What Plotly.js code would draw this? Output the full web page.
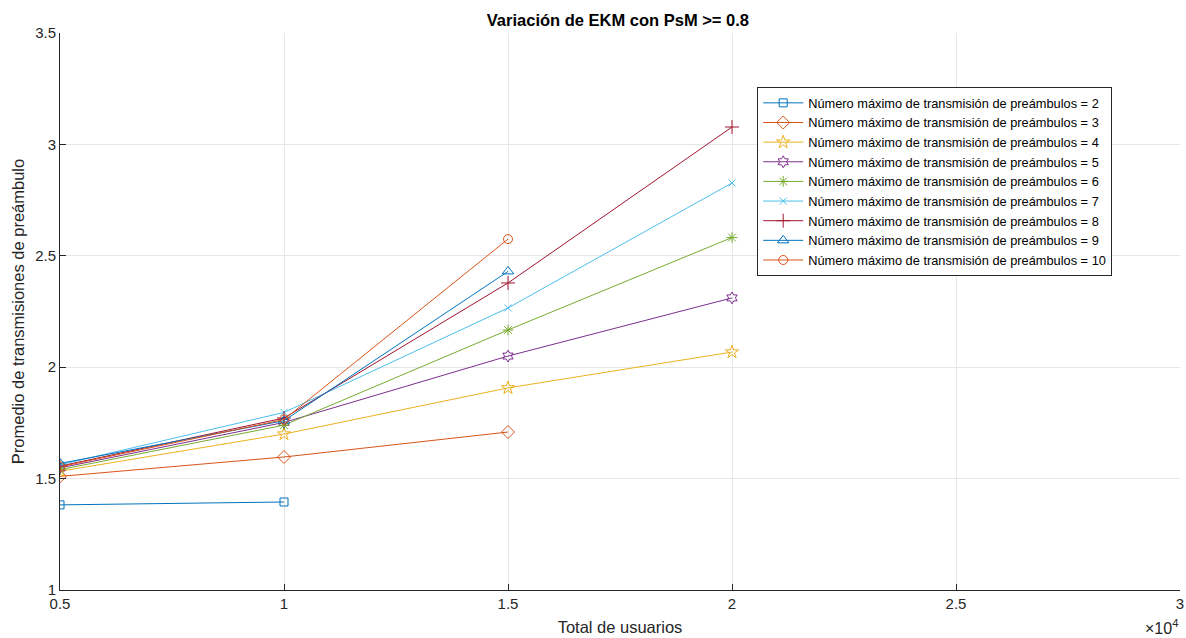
<!DOCTYPE html>
<html>
<head>
<meta charset="utf-8">
<script src="https://cdn.plot.ly/plotly-3.0.1.min.js"></script>
<style>html,body{margin:0;padding:0;background:#fff;}#chart{width:1186px;height:638px;}</style>
</head>
<body>
<div id="chart"></div>
<script>
// Data (Total de usuarios vs. Promedio de transmisiones de preámbulo)
const users = [5000, 10000, 15000, 20000];
const maxTx = [2, 3, 4, 5, 6, 7, 8, 9, 10];
const s2  = [1.382, 1.395];
const s3  = [1.510, 1.597, 1.709];
const s4  = [1.533, 1.700, 1.907, 2.068];
const s5  = [1.548, 1.752, 2.050, 2.311];
const s6  = [1.540, 1.740, 2.167, 2.582];
const s7  = [1.562, 1.797, 2.266, 2.827];
const s8  = [1.556, 1.772, 2.378, 3.078];
const s9  = [1.568, 1.760, 2.430];
const s10 = [1.553, 1.765, 2.575];
const seriesValues = [s2, s3, s4, s5, s6, s7, s8, s9, s10];
const xTickVals = [5000, 10000, 15000, 20000, 25000, 30000];
const xTickText = ["0.5", "1", "1.5", "2", "2.5", "3"];
const yTickVals = [1, 1.5, 2, 2.5, 3, 3.5];
const yTickText = ["1", "1.5", "2", "2.5", "3", "3.5"];

const colors = ["#0072BD", "#D95319", "#EDB120", "#7E2F8E", "#77AC30", "#4DBEEE", "#A2142F", "#0072BD", "#D95319"];
const symbols = ["square-open", "diamond-open", "star-open", "hexagram-open", "asterisk-open", "x-thin-open", "cross-thin-open", "triangle-up-open", "circle-open"];
const sizes = [8, 10, 10, 9, 9, 7, 10, 10, 9];

const traces = seriesValues.map((vals, i) => ({
  x: users.slice(0, vals.length),
  y: vals,
  type: "scatter",
  mode: "lines+markers",
  name: "Número máximo de transmisión de preámbulos = " + maxTx[i],
  line: {color: colors[i], width: 1},
  marker: {symbol: symbols[i], size: sizes[i], color: colors[i], line: {color: colors[i], width: 1}}
}));

const FAM = "Liberation Sans, Arial, sans-serif";
const tickFont = {family: FAM, size: 15, color: "#262626"};

const layout = {
  width: 1186, height: 638,
  margin: {l: 60, r: 6, t: 33, b: 48},
  paper_bgcolor: "#fff", plot_bgcolor: "#fff",
  showlegend: true,
  title: {text: "<b>Variación de EKM con PsM >= 0.8</b>", x: 0.521, xanchor: "center", y: 0.969, yanchor: "middle",
          font: {family: FAM, size: 16.5, color: "#000"}},
  xaxis: {
    range: [5000, 30000], tickvals: xTickVals, ticktext: xTickText,
    showgrid: true, gridcolor: "#e6e6e6", gridwidth: 1,
    showline: true, linecolor: "#262626", linewidth: 1, mirror: false,
    ticks: "inside", ticklen: 6, tickcolor: "#262626",
    tickfont: tickFont, zeroline: false,
    title: {text: "Total de usuarios", font: {family: FAM, size: 16.5, color: "#262626"}, standoff: 10}
  },
  yaxis: {
    range: [1, 3.5], tickvals: yTickVals, ticktext: yTickText,
    showgrid: true, gridcolor: "#e6e6e6", gridwidth: 1,
    showline: true, linecolor: "#262626", linewidth: 1, mirror: false,
    ticks: "inside", ticklen: 6, tickcolor: "#262626",
    tickfont: tickFont, zeroline: false,
    title: {text: "Promedio de transmisiones de preámbulo", font: {family: FAM, size: 16.5, color: "#262626"}, standoff: 6}
  },
  legend: {
    x: 0.6225, y: 0.903, xanchor: "left", yanchor: "top",
    bgcolor: "#fff", bordercolor: "#262626", borderwidth: 1,
    font: {family: FAM, size: 12.8, color: "#000"},
    tracegroupgap: 0, itemwidth: 40
  },
  annotations: [{
    text: "×10<sup>4</sup>", xref: "paper", yref: "paper", x: 1.0, y: -0.066, xanchor: "right", yanchor: "middle",
    showarrow: false, font: {family: FAM, size: 16, color: "#262626"}
  }]
};

Plotly.newPlot("chart", traces, layout, {displayModeBar: false, responsive: false});
</script>
</body>
</html>
